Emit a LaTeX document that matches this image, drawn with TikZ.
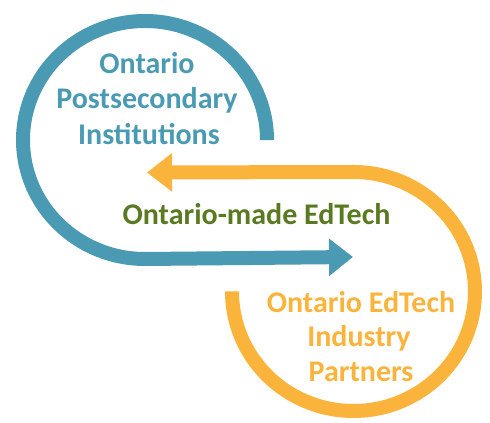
\documentclass[tikz,border=0pt]{standalone}
\usepackage{fontspec}
\setmainfont{Carlito}
\usetikzlibrary{arrows.meta}
\definecolor{cblue}{HTML}{4A9AB4}
\definecolor{corange}{HTML}{FAB33B}
\definecolor{cgreen}{HTML}{5A7A22}
\begin{document}
\begin{tikzpicture}[x=1pt,y=1pt,
  loopline/.style={line width=14pt},
  lbl/.style={font=\fontsize{30}{36}\selectfont\bfseries, anchor=base, inner sep=0pt}]
\useasboundingbox (0,0) rectangle (490,423);
% blue loop
\coordinate (bs) at (267,290);
\coordinate (bt) at (353,166);
\draw[loopline, cblue, -{Triangle[length=24pt,width=36pt]}]
  (bs) -- (267,283) arc[start angle=0, end angle=270, x radius=122, y radius=119]
  -- (bt);
% orange loop
\coordinate (os) at (232,126);
\coordinate (ot) at (147,250.5);
\draw[loopline, corange, -{Triangle[length=25pt,width=37pt]}]
  (os) -- (232,131.5) arc[start angle=180, end angle=450, x radius=121.5, y radius=119.5]
  -- (ot);
% texts
\node[lbl, text=cblue] (b1) at (147,349) {Ontario};
\node[lbl, text=cblue] (b2) at (147,314) {Postsecondary};
\node[lbl, text=cblue] (b3) at (149,278) {Institutions};
\node[lbl, text=cgreen] (g1) at (256.5,198) {Ontario-made EdTech};
\node[lbl, text=corange] (o1) at (361,110) {Ontario EdTech};
\node[lbl, text=corange] (o2) at (359,76) {Industry};
\node[lbl, text=corange] (o3) at (361,41) {Partners};
\end{tikzpicture}
\end{document}
